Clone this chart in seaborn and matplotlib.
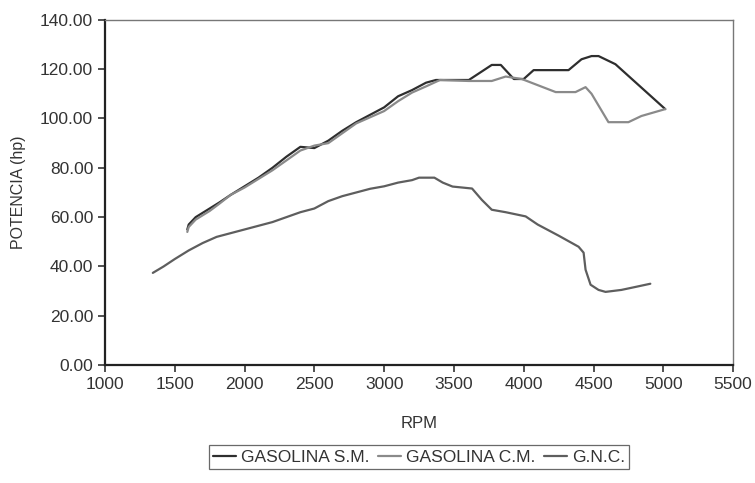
import numpy as np
import pandas as pd
import matplotlib
matplotlib.use("Agg")
import matplotlib.pyplot as plt
import seaborn as sns

# ---- data ----
series_names = ["GASOLINA S.M.", "GASOLINA C.M.", "G.N.C."]

sm_rpm = [1590, 1600, 1650, 1750, 1821, 1900, 2000, 2100, 2200, 2300, 2400, 2500,
          2600, 2700, 2800, 2900, 3000, 3100, 3200, 3300, 3371, 3607, 3771, 3836,
          3929, 4000, 4071, 4321, 4414, 4486, 4536, 4657, 5014]
sm_hp = [55, 57, 60, 63.5, 66, 69, 72.5, 76, 80, 84.5, 88.5, 88,
         91, 95, 98.5, 101.5, 104.5, 109, 111.5, 114.5, 115.6, 115.6, 121.7, 121.7,
         116, 116, 119.6, 119.6, 124, 125.3, 125.3, 122, 103.8]

cm_rpm = [1590, 1600, 1650, 1750, 1821, 1900, 2000, 2100, 2200, 2300, 2400, 2500,
          2600, 2700, 2800, 2900, 3000, 3100, 3200, 3300, 3400, 3607, 3771, 3871,
          3986, 4229, 4371, 4443, 4486, 4607, 4750, 4843, 5014]
cm_hp = [54, 56, 59, 62.5, 65.5, 69, 72, 75.5, 79, 83, 87, 89,
         90, 94, 98, 100.5, 103, 107, 110.5, 113, 115.6, 115.2, 115.2, 117,
         116, 110.7, 110.7, 112.7, 110, 98.5, 98.5, 101, 103.8]

gnc_rpm = [1343, 1420, 1500, 1600, 1700, 1800, 1900, 2000, 2100, 2200, 2300, 2400,
           2500, 2600, 2700, 2800, 2900, 3000, 3100, 3200, 3250, 3360, 3420, 3490,
           3630, 3700, 3771, 3871, 4014, 4100, 4250, 4393, 4429, 4443, 4479, 4536,
           4586, 4700, 4800, 4907]
gnc_hp = [37.4, 40, 43, 46.5, 49.5, 52, 53.5, 55, 56.5, 58, 60, 62,
          63.5, 66.5, 68.5, 70, 71.5, 72.5, 74, 75, 76, 76, 74, 72.4,
          71.6, 67, 63, 62, 60.3, 57, 52.5, 48, 45.6, 38.7, 32.6, 30.5,
          29.7, 30.5, 31.7, 33]

x_ticks = [1000, 1500, 2000, 2500, 3000, 3500, 4000, 4500, 5000, 5500]
y_ticks = [0, 20, 40, 60, 80, 100, 120, 140]

df = pd.concat([
    pd.DataFrame({"RPM": sm_rpm, "hp": sm_hp, "serie": series_names[0]}),
    pd.DataFrame({"RPM": cm_rpm, "hp": cm_hp, "serie": series_names[1]}),
    pd.DataFrame({"RPM": gnc_rpm, "hp": gnc_hp, "serie": series_names[2]}),
], ignore_index=True)

sns.set_theme(style="white")
plt.rcParams["font.family"] = ["Liberation Sans", "DejaVu Sans"]

fig = plt.figure(figsize=(7.55, 4.83), dpi=100)
ax = fig.add_axes([0.139, 0.244, 0.832, 0.715])

palette = {series_names[0]: "#2e2e2e", series_names[1]: "#8a8a8a", series_names[2]: "#5e5e5e"}
sns.lineplot(data=df, x="RPM", y="hp", hue="serie", palette=palette,
             estimator=None, sort=False, linewidth=1.6, ax=ax, legend=True)

ax.set_xlim(1000, 5500)
ax.set_ylim(0, 140)
ax.set_xticks(x_ticks)
ax.set_xticklabels([str(t) for t in x_ticks])
ax.set_yticks(y_ticks)
ax.set_yticklabels([f"{t:.2f}" for t in y_ticks])
ax.tick_params(axis="both", which="major", labelsize=12.5, colors="#333333",
               direction="out", length=5, width=1.2, left=True, bottom=True)
ax.set_xlabel("RPM", fontsize=12, color="#333333", labelpad=17)
ax.set_ylabel("POTENCIA (hp)", fontsize=11.5, color="#333333", labelpad=10)

for side in ["left", "bottom"]:
    ax.spines[side].set_color("#222222")
    ax.spines[side].set_linewidth(1.6)
for side in ["top", "right"]:
    ax.spines[side].set_color("#777777")
    ax.spines[side].set_linewidth(1.0)

handles, labels = ax.get_legend_handles_labels()
ax.legend(handles, labels, loc="center", bbox_to_anchor=(0.555, 0.053),
          bbox_transform=fig.transFigure, ncol=3, fontsize=12.5, frameon=True,
          fancybox=False, edgecolor="#444444", handlelength=1.3, handletextpad=0.3,
          columnspacing=0.5, borderpad=0.25, labelcolor="#333333")
ax.get_legend().get_frame().set_linewidth(0.9)

fig.savefig("out.png", dpi=100)
